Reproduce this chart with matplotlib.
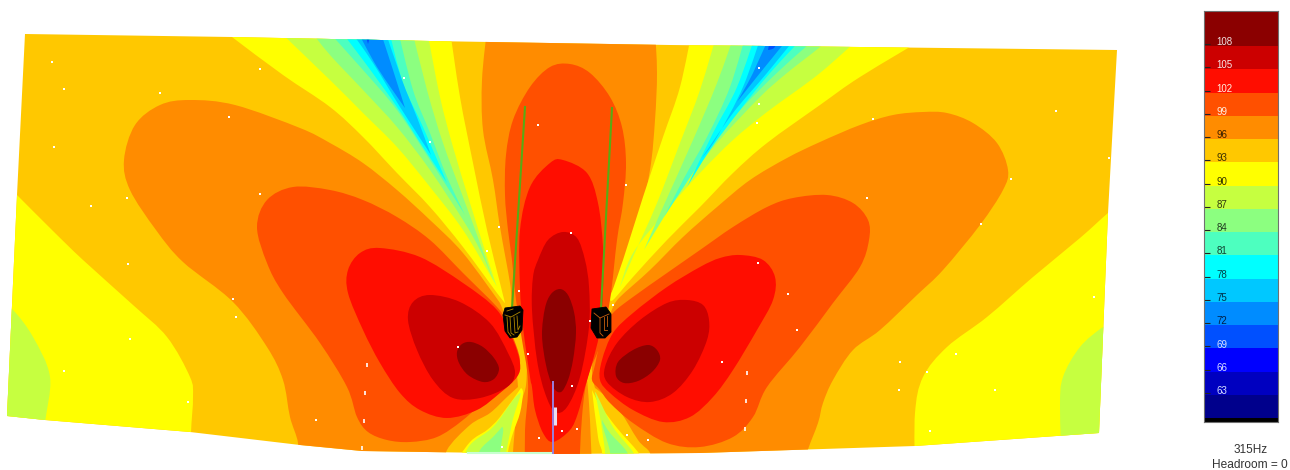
import matplotlib
matplotlib.use("Agg")
import matplotlib.pyplot as plt
from matplotlib.patches import PathPatch, Polygon
from matplotlib.path import Path

plt.rcParams["font.family"] = ["Liberation Sans", "DejaVu Sans"]

# colour scale
levels = [108, 105, 102, 99, 96, 93, 90, 87, 84, 81, 78, 75, 72, 69, 66, 63, 60]
colors = ["#8B0000", "#CC0000", "#FF0D00", "#FF5000", "#FF8C00", "#FFC800", "#FFFF00",
          "#C6FF40", "#8CFF80", "#4DFFBF", "#00FFFF", "#00C8FF", "#008CFF", "#0050FF",
          "#0000FF", "#0000C0", "#00008C"]
label_colors = ["#F0E0E0", "#F8E8E8", "#FFF0E0", "#FFF0E0", "#3A2000", "#3A3000", "#303000",
                "#303810", "#203820", "#104030", "#004048", "#003048", "#002048", "#D8E0FF",
                "#D8E0FF", "#D8E0FF"]
c = dict(zip(levels, colors))

# contour outlines, in map units. A repeated vertex stays sharp.
outline = [(25, 34), (232, 37), (430, 41), (550, 43), (670, 45), (860, 47), (1117, 50),
           (1108, 213), (1099, 433), (915, 446), (700, 453), (555, 454), (362, 451),
           (300, 445), (190, 432), (45, 420), (7, 416), (17, 195)]

yellow_left = [(0, 178), (0, 178), (17, 195), (52, 230), (83, 260), (133, 305), (167, 337), (190, 377),
               (193, 397), (191, 433), (191, 470), (191, 470), (0, 470), (0, 470)]
green_left = [(0, 303), (0, 303), (13, 310), (33, 337), (50, 377), (45, 425), (45, 470), (45, 470),
              (0, 470), (0, 470)]
yellow_right = [(1125, 200), (1125, 200), (1108, 213), (1080, 238), (1033, 277), (987, 317), (947, 347),
                (923, 377), (915, 413), (915, 470), (915, 470), (1125, 470), (1125, 470)]
green_right = [(1125, 315), (1125, 315), (1103, 327), (1080, 347), (1063, 377), (1060, 407), (1062, 470),
               (1062, 470), (1125, 470), (1125, 470)]

lobe_l_96 = [(190, 100), (235, 105), (300, 128), (330, 143), (363, 163), (397, 190), (430, 220),
             (463, 253), (500, 303), (500, 303), (512, 335), (516, 365), (518, 387), (518, 387),
             (507, 397), (490, 413), (470, 425), (447, 450), (447, 470), (447, 470), (298, 470),
             (298, 470), (298, 443), (290, 417), (283, 380), (267, 347), (233, 302), (183, 262),
             (156, 230), (130, 190), (124, 160), (135, 125), (160, 105)]
lobe_r_96 = [(923, 112), (947, 113), (973, 123), (997, 143), (1008, 170), (1003, 190), (980, 225),
             (943, 270), (917, 295), (880, 330), (853, 350), (833, 380), (823, 403), (818, 423),
             (807, 453), (807, 470), (807, 470), (650, 470), (650, 470), (650, 453), (638, 440),
             (617, 407), (595, 388), (595, 388), (592, 365), (602, 335), (613, 307), (613, 307),
             (620, 297), (650, 270), (683, 237), (717, 207), (750, 180), (787, 158), (820, 142),
             (860, 125), (893, 115)]
tower_96 = [(487, 30), (487, 30), (482, 80), (483, 130), (493, 180), (500, 227), (510, 283),
            (513, 310), (525, 345), (526, 385), (517, 413), (513, 452), (513, 470), (513, 470),
            (592, 470), (592, 470), (590, 420), (588, 390), (587, 370), (592, 345), (600, 320),
            (607, 300), (620, 277), (637, 230), (650, 170), (655, 120), (657, 73), (655, 30), (655, 30)]

beam_tl_90 = [(210, 20), (210, 20), (232, 37), (283, 75), (330, 107), (363, 137), (397, 173), (430, 207),
              (463, 247), (497, 293), (505, 303), (505, 303), (500, 283), (487, 230), (473, 163),
              (460, 97), (450, 30), (450, 30)]
beam_tl_87 = [(278, 30), (278, 30), (330, 80), (363, 113), (397, 147), (430, 187), (463, 230), (493, 280),
              (497, 287), (497, 287), (487, 257), (470, 203), (453, 147), (440, 97), (427, 30), (427, 30)]
beam_tl_84 = [(310, 30), (310, 30), (330, 55), (363, 90), (397, 127), (430, 170), (463, 220), (480, 250),
              (494, 282), (494, 282), (480, 243), (463, 197), (443, 143), (427, 90), (412, 30), (412, 30)]
beam_tl_81 = [(327, 30), (327, 30), (363, 70), (397, 110), (430, 160), (465, 215), (465, 215),
              (447, 177), (430, 133), (413, 90), (398, 30), (398, 30)]
beam_tl_78 = [(340, 30), (340, 30), (363, 60), (397, 107), (423, 147), (447, 183), (447, 183),
              (423, 127), (403, 83), (389, 30), (389, 30)]
beam_tl_75 = [(350, 30), (350, 30), (373, 63), (400, 107), (431, 155), (431, 155), (418, 120),
              (402, 80), (385, 30), (385, 30)]
beam_tl_72 = [(357, 30), (357, 30), (377, 67), (405, 108), (405, 108), (393, 70), (380, 30), (380, 30)]
beam_tl_69 = [(364, 30), (364, 30), (368, 44), (368, 44), (372, 30), (372, 30)]

beam_tr_90 = [(692, 30), (692, 30), (680, 87), (663, 137), (643, 197), (623, 260), (610, 297), (610, 297),
              (613, 300), (633, 277), (667, 240), (700, 207), (733, 173), (767, 143), (820, 105),
              (860, 77), (930, 35), (930, 35)]
beam_tr_87 = [(718, 30), (718, 30), (700, 90), (680, 143), (657, 203), (633, 257), (620, 287), (620, 287),
              (633, 253), (667, 210), (700, 173), (733, 140), (767, 112), (820, 73), (868, 30), (868, 30)]
beam_tr_84 = [(736, 30), (736, 30), (717, 83), (693, 140), (663, 207), (644, 250), (644, 250),
              (683, 187), (717, 143), (760, 97), (787, 73), (820, 47), (838, 30), (838, 30)]
beam_tr_81 = [(747, 30), (747, 30), (730, 87), (707, 137), (683, 180), (664, 217), (664, 217),
              (685, 185), (710, 147), (743, 107), (780, 70), (825, 30), (825, 30)]
beam_tr_78 = [(757, 30), (757, 30), (737, 87), (713, 133), (687, 187), (687, 187), (710, 150),
              (740, 110), (770, 73), (810, 30), (810, 30)]
beam_tr_75 = [(763, 30), (763, 30), (743, 87), (717, 137), (702, 158), (702, 158), (733, 113),
              (767, 73), (802, 30), (802, 30)]
beam_tr_72 = [(772, 30), (772, 30), (753, 73), (737, 102), (737, 102), (760, 73), (795, 30), (795, 30)]
beam_tr_69 = [(770, 40), (770, 40), (768, 50), (768, 50), (774, 48), (778, 40), (778, 40)]

beam_bl_90 = [(521, 388), (521, 388), (500, 417), (487, 430), (470, 442), (450, 470), (450, 470),
              (508, 470), (508, 470), (508, 452), (513, 433), (520, 413), (523, 393)]
beam_bl_87 = [(520, 393), (520, 393), (513, 400), (493, 427), (470, 445), (458, 470), (458, 470),
              (503, 470), (503, 470), (512, 423), (520, 397)]
beam_bl_84 = [(502, 427), (502, 427), (493, 437), (480, 450), (472, 470), (472, 470),
              (497, 470), (497, 470), (503, 433)]
beam_br_90 = [(592, 390), (592, 390), (598, 437), (602, 452), (602, 470), (602, 470), (650, 470), (650, 470),
              (638, 452), (617, 428), (600, 405)]
beam_br_87 = [(595, 393), (595, 393), (600, 417), (605, 452), (605, 470), (605, 470), (640, 470), (640, 470),
              (633, 452), (613, 427), (597, 395)]
beam_br_84 = [(602, 420), (602, 420), (603, 427), (610, 452), (610, 470), (610, 470), (632, 470), (632, 470),
              (627, 452), (610, 433)]

lobe_l_99 = [(293, 187), (330, 190), (363, 200), (397, 217), (430, 240), (463, 273), (497, 307), (505, 320),
             (516, 345), (520, 363), (513, 377), (493, 393), (463, 420), (437, 437), (410, 442), (387, 440),
             (368, 432), (357, 417), (347, 387), (320, 343), (283, 293), (267, 263), (257, 227), (267, 200)]
lobe_r_99 = [(827, 195), (853, 203), (868, 220), (869, 240), (860, 267), (833, 303), (800, 347), (767, 387),
             (753, 417), (733, 437), (700, 447), (667, 443), (633, 423), (610, 403), (600, 390), (592, 380),
             (595, 365), (603, 330), (613, 313), (633, 297), (667, 273), (700, 250), (733, 227), (767, 207),
             (793, 198)]
center_99 = [(570, 64), (590, 73), (610, 97), (622, 127), (626, 163), (623, 203), (617, 240), (610, 300),
             (600, 345), (590, 370), (585, 390), (582, 417), (580, 452), (580, 470), (580, 470),
             (525, 470), (525, 470), (525, 430), (528, 393), (527, 370), (522, 340), (516, 300), (512, 260),
             (508, 230), (505, 195), (506, 155), (513, 120), (530, 87), (550, 67)]

lobe_l_102 = [(380, 248), (360, 253), (348, 270), (348, 293), (363, 330), (380, 363), (400, 393), (420, 410),
              (447, 418), (477, 410), (500, 393), (517, 377), (520, 363), (513, 340), (497, 310), (463, 283),
              (420, 257)]
lobe_r_102 = [(740, 255), (763, 260), (775, 277), (773, 300), (757, 330), (733, 370), (713, 397), (690, 417),
              (663, 422), (633, 410), (610, 393), (600, 380), (602, 360), (613, 333), (633, 313), (667, 287),
              (700, 267), (720, 258)]
center_102 = [(563, 160), (587, 173), (598, 203), (603, 247), (603, 290), (600, 330), (593, 360), (585, 387),
              (578, 413), (570, 430), (553, 442), (543, 433), (535, 410), (532, 387), (530, 377), (523, 327),
              (520, 287), (520, 230), (530, 187), (550, 163)]

lobe_l_105 = [(430, 295), (413, 302), (408, 320), (417, 350), (433, 380), (453, 398), (480, 398), (507, 387),
              (515, 373), (508, 353), (490, 323), (460, 302)]
lobe_r_105 = [(687, 300), (703, 305), (709, 320), (707, 340), (693, 370), (673, 393), (650, 402), (627, 397),
              (607, 382), (605, 367), (617, 343), (640, 320), (667, 303)]
center_105 = [(563, 232), (577, 238), (585, 260), (589, 287), (589, 327), (580, 377), (567, 407), (555, 412),
              (545, 393), (537, 360), (532, 310), (533, 277), (538, 260), (548, 240)]

lobe_l_108 = [(471, 342), (462, 344), (457, 352), (459, 363), (468, 375), (483, 382), (494, 379), (499, 369),
              (494, 358), (483, 347)]
lobe_r_108 = [(648, 345), (657, 350), (660, 360), (652, 372), (638, 381), (624, 383), (616, 376), (618, 362),
              (633, 350)]
center_108 = [(560, 289), (568, 295), (574, 312), (576, 333), (573, 360), (568, 380), (561, 392), (553, 387),
              (546, 365), (542, 335), (545, 308), (551, 294)]

layers = [
    (yellow_left, 90), (yellow_right, 90), (green_left, 87), (green_right, 87),
    (lobe_l_96, 96), (lobe_r_96, 96), (tower_96, 96),
    (beam_tl_90, 90), (beam_tl_87, 87), (beam_tl_84, 84), (beam_tl_81, 81), (beam_tl_78, 78),
    (beam_tl_75, 75), (beam_tl_72, 72), (beam_tl_69, 69),
    (beam_tr_90, 90), (beam_tr_87, 87), (beam_tr_84, 84), (beam_tr_81, 81), (beam_tr_78, 78),
    (beam_tr_75, 75), (beam_tr_72, 72), (beam_tr_69, 69),
    (beam_bl_90, 90), (beam_bl_87, 87), (beam_bl_84, 84),
    (beam_br_90, 90), (beam_br_87, 87), (beam_br_84, 84),
    (lobe_l_99, 99), (lobe_r_99, 99), (center_99, 99),
    (lobe_l_102, 102), (lobe_r_102, 102), (center_102, 102),
    (lobe_l_105, 105), (lobe_r_105, 105), (center_105, 105),
    (lobe_l_108, 108), (lobe_r_108, 108), (center_108, 108),
]

# stray white measurement points
speck_x = [52, 64, 160, 260, 229, 54, 127, 91, 260, 404, 128, 233, 236, 130, 64, 188, 316,
           1056, 1109, 873, 1011, 867, 981, 1094, 956, 900, 927, 899, 995, 930,
           538, 626, 499, 571, 487, 430, 759, 759, 757, 758, 788, 797, 722,
           519, 458, 528, 590, 572, 562, 577, 539, 502, 627, 648, 613]
speck_y = [62, 89, 93, 69, 117, 147, 198, 206, 194, 78, 264, 299, 317, 339, 371, 402, 420,
           111, 158, 119, 179, 198, 224, 297, 354, 362, 372, 390, 390, 431,
           125, 185, 227, 233, 251, 142, 68, 104, 123, 263, 294, 330, 362,
           291, 347, 354, 321, 386, 431, 429, 438, 447, 435, 440, 305]
dash_x = [367, 365, 364, 362, 747, 746, 745]
dash_y = [365, 393, 421, 448, 373, 401, 429]

# colour bar band edges and ticks
band_tops = [112.25, 107.74, 104.74, 101.74, 98.74, 95.74, 92.74, 89.74, 86.74, 83.74, 80.74,
             77.74, 74.74, 71.74, 68.74, 65.74, 62.74]
band_bottoms = [107.74, 104.74, 101.74, 98.74, 95.74, 92.74, 89.74, 86.74, 83.74, 80.74, 77.74,
                74.74, 71.74, 68.74, 65.74, 62.74, 59.78]
tick_levels = levels[:-1]


def smooth(pts):
    # closed curve through every vertex, doubled vertices stay as corners
    n = len(pts)
    tang = []
    for i in range(n):
        prev, nxt = pts[i - 1], pts[(i + 1) % n]
        if pts[i] == prev or pts[i] == nxt:
            tang.append((0, 0))
        else:
            tang.append(((nxt[0] - prev[0]) / 6, (nxt[1] - prev[1]) / 6))
    verts, codes = [pts[0]], [Path.MOVETO]
    for i in range(n):
        j = (i + 1) % n
        verts += [(pts[i][0] + tang[i][0], pts[i][1] + tang[i][1]),
                  (pts[j][0] - tang[j][0], pts[j][1] - tang[j][1]), pts[j]]
        codes += [Path.CURVE4, Path.CURVE4, Path.CURVE4]
    return Path(verts, codes)


fig = plt.figure(figsize=(12.9, 4.7), dpi=100)
ax = fig.add_axes([0, 0, 1, 1])
ax.set_xlim(0, 1290)
ax.set_ylim(470, 0)
ax.axis("off")

boundary = Polygon(outline, closed=True, fc=c[93], ec="none", zorder=1)
ax.add_patch(boundary)
for pts, lev in layers:
    p = PathPatch(smooth(pts), fc=c[lev], ec="none", zorder=2)
    ax.add_patch(p)
    p.set_clip_path(boundary)

ax.scatter(speck_x, speck_y, s=2.2, c="white", marker="s", linewidths=0, zorder=3)
ax.scatter(dash_x, dash_y, s=9, c="white", marker="|", linewidths=1.2, zorder=3)

# array direction lines and the reference mic stand
ax.plot([525, 512], [107, 308], color="#58AC14", lw=1.5, zorder=4)
ax.plot([612, 601], [108, 308], color="#58AC14", lw=1.5, zorder=4)
ax.plot([468, 552], [452.5, 452.5], color="#C8FFD0", lw=1.5, zorder=4)
ax.plot([555, 555], [407, 425], color="#EBDDF0", lw=2.2, zorder=4, solid_capstyle="butt")
ax.plot([553, 553], [381, 454], color="#9A80E0", lw=1.4, zorder=5, solid_capstyle="butt")

# the two subs
sub_l = [(505, 308), (520, 306), (523, 310), (522, 330), (517, 337), (510, 338), (505, 331), (503, 315)]
sub_r = [(592, 309), (606, 307), (611, 314), (611, 332), (605, 338), (597, 338), (591, 328)]
ax.add_patch(Polygon(sub_l, fc="black", ec="black", lw=0.6, zorder=6))
ax.add_patch(Polygon(sub_r, fc="black", ec="black", lw=0.6, zorder=6))
for xs, ys in [([505, 511, 520], [315, 317, 312]), ([507, 508, 511], [317, 332, 336]),
               ([510, 511, 514], [317, 333, 335]), ([514, 515, 518], [317, 333, 332]),
               ([517, 518, 520], [316, 330, 326]), ([507, 513], [311, 309])]:
    ax.plot(xs, ys, color="#B08800", lw=0.6, zorder=7)
for xs, ys in [([594, 600, 609], [313, 318, 314]), ([600, 600, 603], [318, 333, 336]),
               ([604, 604, 607], [317, 330, 330]), ([607, 607], [316, 326])]:
    ax.plot(xs, ys, color="#C86010", lw=0.6, zorder=7)

# colour bar
cax = fig.add_axes([1204 / 1290, 1 - 422 / 470, 74 / 1290, 411 / 470], facecolor="black")
cax.bar(0, [t - b for t, b in zip(band_tops, band_bottoms)], bottom=band_bottoms, width=1,
        color=colors, align="edge", linewidth=0)
cax.set_xlim(0, 1)
cax.set_ylim(59.26, 112.25)
cax.set_xticks([])
cax.yaxis.tick_right()
cax.tick_params(axis="y", left=True, right=False, labelleft=False, labelright=False,
                direction="in", length=4, width=0.8, color="#222222")
cax.set_yticks(tick_levels)
for s in cax.spines.values():
    s.set_color("#707070")
    s.set_linewidth(0.8)
for lev, col in zip(tick_levels, label_colors):
    cax.text(0.17, lev + 0.25, str(lev), color=col, fontsize=7, va="center", ha="left")

ax.text(1251, 450, "315Hz", fontsize=8.5, color="#333333", ha="center", va="center")
ax.text(1250, 465, "Headroom = 0", fontsize=8.6, color="#333333", ha="center", va="center")

plt.savefig("out.png", dpi=100)
